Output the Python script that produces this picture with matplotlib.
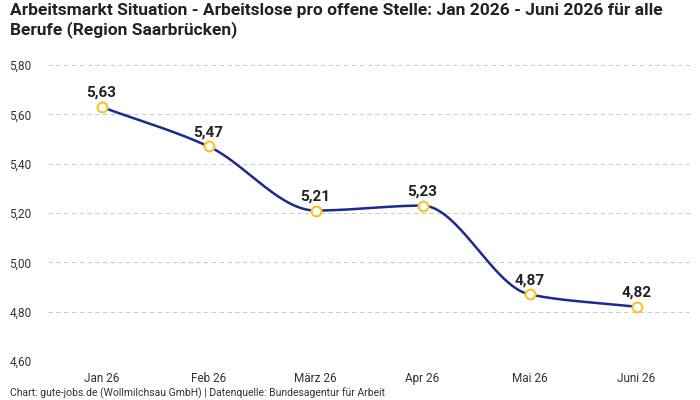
import numpy as np
import matplotlib.pyplot as plt
from matplotlib import font_manager

# Daten
monate = ["Jan 26", "Feb 26", "März 26", "Apr 26", "Mai 26", "Juni 26"]
werte = [5.63, 5.47, 5.21, 5.23, 4.87, 4.82]
y_ticks = [4.60, 4.80, 5.00, 5.20, 5.40, 5.60, 5.80]

namen = {f.name for f in font_manager.fontManager.ttflist}
schrift = "Liberation Sans Narrow" if "Liberation Sans Narrow" in namen else "Roboto"
plt.rcParams['font.family'] = [schrift, 'DejaVu Sans']


def monoton(x, y, n=60):
    """Monotone kubische Interpolation (Fritsch-Carlson)."""
    x = np.asarray(x, float)
    y = np.asarray(y, float)
    h = np.diff(x)
    d = np.diff(y) / h
    m = np.zeros_like(y)
    m[0], m[-1] = d[0], d[-1]
    for i in range(1, len(y) - 1):
        if d[i - 1] * d[i] <= 0:
            m[i] = 0
        else:
            w1 = 2 * h[i] + h[i - 1]
            w2 = h[i] + 2 * h[i - 1]
            m[i] = (w1 + w2) / (w1 / d[i - 1] + w2 / d[i])
    xs, ys = [], []
    for i in range(len(h)):
        t = np.linspace(0, 1, n)
        h00 = 2 * t**3 - 3 * t**2 + 1
        h10 = t**3 - 2 * t**2 + t
        h01 = -2 * t**3 + 3 * t**2
        h11 = t**3 - t**2
        xs.append(x[i] + t * h[i])
        ys.append(h00 * y[i] + h10 * h[i] * m[i] + h01 * y[i + 1] + h11 * h[i] * m[i + 1])
    return np.concatenate(xs), np.concatenate(ys)


fig = plt.figure(figsize=(7, 4), dpi=100)
ax = fig.add_axes([48 / 700, 1 - 361 / 400, 642 / 700, 296 / 400])

x = np.arange(len(monate))
xs, ys = monoton(x, werte)
ax.plot(xs, ys, color="#1b2a8c", linewidth=1.8, zorder=2)
ax.plot(x, werte, linestyle="none", marker="o", markersize=7,
        markerfacecolor="white", markeredgecolor="#f6c533", markeredgewidth=1.6, zorder=3)

for xi, v in zip(x, werte):
    ax.annotate(f"{v:.2f}".replace(".", ","), (xi, v), xytext=(0, 5),
                textcoords="offset points", ha="center", va="bottom",
                fontsize=11, fontweight="bold", color="#222222")

ax.set_xlim(-0.5, 5.5)
ax.set_ylim(4.60, 5.80)
ax.set_xticks(x)
ax.set_xticklabels(monate)
ax.set_yticks(y_ticks)
ax.set_yticklabels([f"{t:.2f}".replace(".", ",") for t in y_ticks])
ax.tick_params(length=0, labelsize=8.5, colors="#333333")
ax.tick_params(axis="x", pad=8)
ax.tick_params(axis="y", pad=12)
ax.grid(axis="y", linestyle=(0, (4, 3)), color="#cccccc", linewidth=0.8)
ax.set_axisbelow(True)
for s in ax.spines.values():
    s.set_visible(False)

fig.text(10 / 700, 1 - 3 / 400,
         "Arbeitsmarkt Situation - Arbeitslose pro offene Stelle: Jan 2026 - Juni 2026 für alle\nBerufe (Region Saarbrücken)",
         ha="left", va="top", fontsize=12.5, fontweight="bold", color="#222222", linespacing=1.25)
fig.text(10 / 700, 1 - 393 / 400,
         "Chart: gute-jobs.de (Wollmilchsau GmbH) | Datenquelle: Bundesagentur für Arbeit",
         ha="left", va="center", fontsize=7.5, color="#333333")

fig.savefig("out.png", dpi=100)
